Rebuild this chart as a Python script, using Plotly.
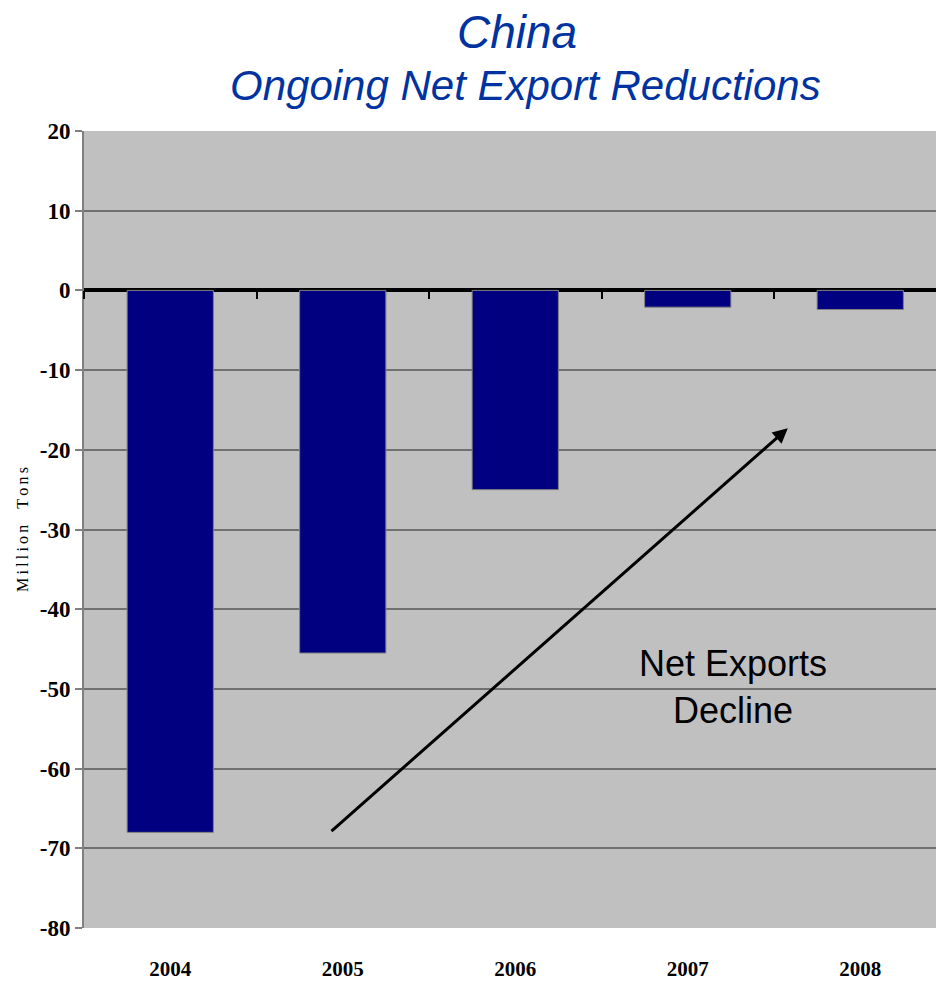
import plotly.graph_objects as go

years = ["2004", "2005", "2006", "2007", "2008"]
net_exports = [-68.0, -45.5, -25.0, -2.1, -2.4]
y_ticks = [20, 10, 0, -10, -20, -30, -40, -50, -60, -70, -80]
y_tick_text = ["20", "10", "0", "-10", "-20", "-30", "-40", "-50", "-60", "-70", "-80"]

title_line1 = "China"
title_line2 = "Ongoing Net Export Reductions"
y_title = "M\u2009i\u2009l\u2009l\u2009i\u2009o\u2009n\u2003T\u2009o\u2009n\u2009s"
note_text = "Net Exports<br>Decline"

x_range = [-0.5, 4.439]
y_range = [-80, 20]
arrow_tail = (0.926, -68.0)
arrow_head = (3.58, -17.3)
note_pos = (3.265, -49.8)

fig = go.Figure()
fig.add_trace(go.Bar(
    x=years, y=net_exports, width=0.5,
    marker=dict(color="#000080", line=dict(color="#808080", width=1)),
    showlegend=False, hoverinfo="x+y",
))
# invisible trace for the boundary-tick axis at zero
fig.add_trace(go.Scatter(x=[0], y=[0], xaxis="x2", mode="markers",
                         marker=dict(opacity=0), showlegend=False, hoverinfo="skip"))

fig.update_layout(
    width=936, height=983,
    margin=dict(l=84, r=0, t=131, b=55),
    paper_bgcolor="white", plot_bgcolor="#C0C0C0",
    xaxis=dict(
        range=x_range, showgrid=False, zeroline=False,
        showline=False, ticks="",
        tickfont=dict(family="Liberation Serif", size=21, color="black", weight="bold"),
        ticklabelstandoff=26,
    ),
    xaxis2=dict(
        range=x_range, overlaying="x", anchor="free", position=0.8,
        tickmode="array", tickvals=[-0.5, 0.5, 1.5, 2.5, 3.5],
        ticks="outside", ticklen=8, tickwidth=2, tickcolor="black",
        showticklabels=False, showline=False, showgrid=False, zeroline=False,
    ),
    yaxis=dict(
        range=y_range, tickmode="array", tickvals=y_ticks, ticktext=y_tick_text,
        showgrid=True, gridcolor="#707070", gridwidth=2,
        zeroline=True, zerolinecolor="black", zerolinewidth=3.5,
        showline=True, linecolor="#808080", linewidth=2, mirror=False,
        ticks="outside", ticklen=7, tickcolor="#808080", tickwidth=2,
        tickfont=dict(family="Liberation Serif", size=23, color="black", weight="bold"),
        title=dict(text=y_title, font=dict(family="Liberation Serif", size=16, color="black"),
                   standoff=7),
    ),
    annotations=[
        dict(text=title_line1, xref="paper", yref="paper", x=0.508, y=1.0,
             yshift=99, showarrow=False, xanchor="center", yanchor="middle",
             font=dict(family="Liberation Sans", size=46, color="#0033A0", style="italic")),
        dict(text=title_line2, xref="paper", yref="paper", x=0.518, y=1.0,
             yshift=46, showarrow=False, xanchor="center", yanchor="middle",
             font=dict(family="Liberation Sans", size=42, color="#0033A0", style="italic")),
        dict(text=note_text, x=note_pos[0], y=note_pos[1], xref="x", yref="y", showarrow=False,
             font=dict(family="Liberation Sans", size=36, color="black"), align="center"),
        dict(x=arrow_head[0], y=arrow_head[1], ax=arrow_tail[0], ay=arrow_tail[1],
             xref="x", yref="y", axref="x", ayref="y", text="", showarrow=True,
             arrowhead=2, arrowsize=1.0, arrowwidth=3, arrowcolor="black"),
    ],
)

fig.write_html("out.html", config={"displayModeBar": False},
               post_script="document.body.style.margin='0';document.body.style.overflow='hidden';")
